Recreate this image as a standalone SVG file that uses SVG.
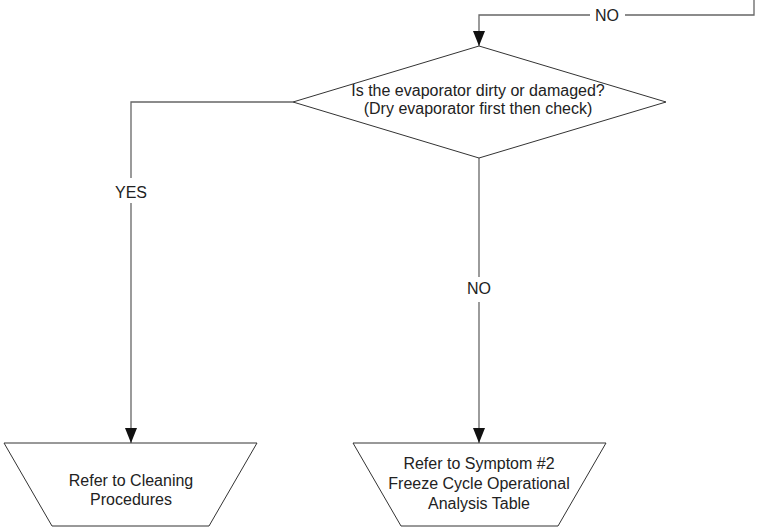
<svg xmlns="http://www.w3.org/2000/svg" width="760" height="527" viewBox="0 0 760 527">
<style>
.shape{fill:#fff;stroke:#333;stroke-width:1}
.line{fill:none;stroke:#666;stroke-width:1.3}
text{font-family:"Liberation Sans",Arial,sans-serif;font-size:16px;fill:#222;text-anchor:middle}
.lbl{fill:#fff}
</style>
<defs>
<marker id="arr" markerWidth="16" markerHeight="12" refX="15" refY="6" orient="auto" markerUnits="userSpaceOnUse" viewBox="0 0 16 12">
<path d="M0,0 L15,6 L0,12 Z" fill="#111"/>
</marker>
</defs>
<rect width="760" height="527" fill="#fff"/>
<g id="connectors">
<path class="line" d="M754,0 V15 H479 V46" marker-end="url(#arr)"/>
<path class="line" d="M293,102 H131 V443" marker-end="url(#arr)"/>
<path class="line" d="M479,158 V443" marker-end="url(#arr)"/>
<rect class="lbl" x="590" y="6" width="35" height="18"/>
<text x="607" y="21">NO</text>
<rect class="lbl" x="108" y="178" width="46" height="25"/>
<text x="131" y="198">YES</text>
<rect class="lbl" x="463" y="277" width="32" height="25"/>
<text x="479" y="294">NO</text>
</g>
<g id="decision">
<polygon class="shape" points="479,46 666,102 479,158 293,102"/>
<text x="478" y="96">Is the evaporator dirty or damaged?</text>
<text x="478" y="114">(Dry evaporator first then check)</text>
</g>
<g id="cleaning">
<polygon class="shape" points="4,443 257,443 209,526 52,526"/>
<text x="131" y="486">Refer to Cleaning</text>
<text x="131" y="505">Procedures</text>
</g>
<g id="symptom2">
<polygon class="shape" points="353,443 606,443 558,526 401,526"/>
<text x="479" y="469">Refer to Symptom #2</text>
<text x="479" y="489">Freeze Cycle Operational</text>
<text x="479" y="509">Analysis Table</text>
</g>
</svg>
